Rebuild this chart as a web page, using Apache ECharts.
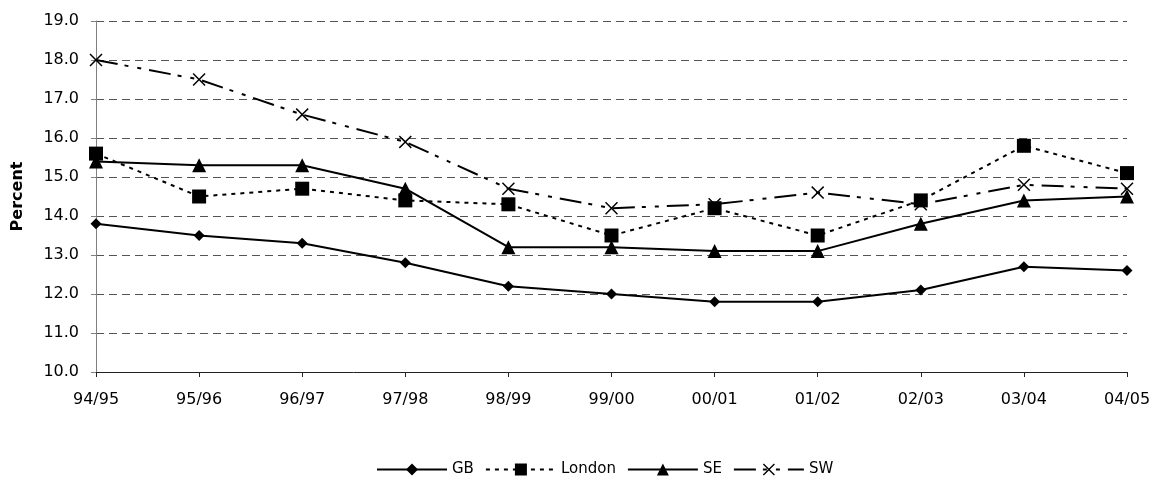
<!DOCTYPE html>
<html>
<head>
<meta charset="utf-8">
<script src="https://cdn.jsdelivr.net/npm/echarts@6/dist/echarts.min.js"></script>
<style>
  html, body { margin: 0; padding: 0; background: #fff; }
  #chart { width: 1158px; height: 481px; }
</style>
</head>
<body>
<div id="chart"></div>
<script>
// Years on the horizontal axis
const years = ['94/95', '95/96', '96/97', '97/98', '98/99', '99/00', '00/01', '01/02', '02/03', '03/04', '04/05'];

// Percent values per region
const gb     = [13.8, 13.5, 13.3, 12.8, 12.2, 12.0, 11.8, 11.8, 12.1, 12.7, 12.6];
const london = [15.6, 14.5, 14.7, 14.4, 14.3, 13.5, 14.2, 13.5, 14.4, 15.8, 15.1];
const se     = [15.4, 15.3, 15.3, 14.7, 13.2, 13.2, 13.1, 13.1, 13.8, 14.4, 14.5];
const sw     = [18.0, 17.5, 16.6, 15.9, 14.7, 14.2, 14.3, 14.6, 14.3, 14.8, 14.7];

const yMin = 10, yMax = 19, yStep = 1;

const font = '"DejaVu Sans", Verdana, sans-serif';
// thin X drawn as a filled outline so it scales like the built-in symbols
const crossPath = 'path://M0,8L8,0L50,42L92,0L100,8L58,50L100,92L92,100L50,58L8,100L0,92L42,50Z';

function line(name, data, symbol, size, dash) {
  return {
    name: name,
    type: 'line',
    data: data,
    symbol: symbol,
    symbolSize: size,
    showAllSymbol: true,
    animation: false,
    itemStyle: { color: '#000' },
    lineStyle: { color: '#000', width: 2, type: dash },
    emphasis: { disabled: true }
  };
}

const chart = echarts.init(document.getElementById('chart'), null, { renderer: 'canvas' });
chart.setOption({
  backgroundColor: '#fff',
  animation: false,
  grid: { left: 96, right: 31, top: 21, bottom: 109, containLabel: false },
  legend: {
    top: 457,
    left: 371,
    itemWidth: 70,
    itemHeight: 15,
    itemGap: 11,
    textStyle: { fontFamily: font, fontSize: 15, color: '#000' },
    data: ['GB', 'London', 'SE', 'SW']
  },
  xAxis: {
    type: 'category',
    data: years,
    boundaryGap: false,
    axisLine: { lineStyle: { color: '#222', width: 1 } },
    axisTick: { alignWithLabel: true, length: 5, lineStyle: { color: '#222' } },
    axisLabel: { fontFamily: font, fontSize: 16, color: '#000', margin: 20 },
    splitLine: { show: false }
  },
  yAxis: {
    type: 'value',
    min: yMin,
    max: yMax,
    interval: yStep,
    name: 'Percent',
    nameLocation: 'middle',
    nameGap: 70,
    nameTextStyle: { fontFamily: font, fontSize: 16, fontWeight: 'bold', color: '#000' },
    axisLine: { show: true, lineStyle: { color: '#808080', width: 1 } },
    axisTick: { show: true, length: 5, lineStyle: { color: '#808080' } },
    axisLabel: { fontFamily: font, fontSize: 16, color: '#000', margin: 17, formatter: v => v.toFixed(1) },
    splitLine: { show: true, lineStyle: { color: '#555', type: [8, 5], width: 1 } }
  },
  series: [
    line('GB', gb, 'diamond', 11, 'solid'),
    line('London', london, 'rect', 14, [4, 5]),
    line('SE', se, 'triangle', 14, 'solid'),
    line('SW', sw, crossPath, 13, [22, 7, 4, 9, 4, 8])
  ]
});
</script>
</body>
</html>
